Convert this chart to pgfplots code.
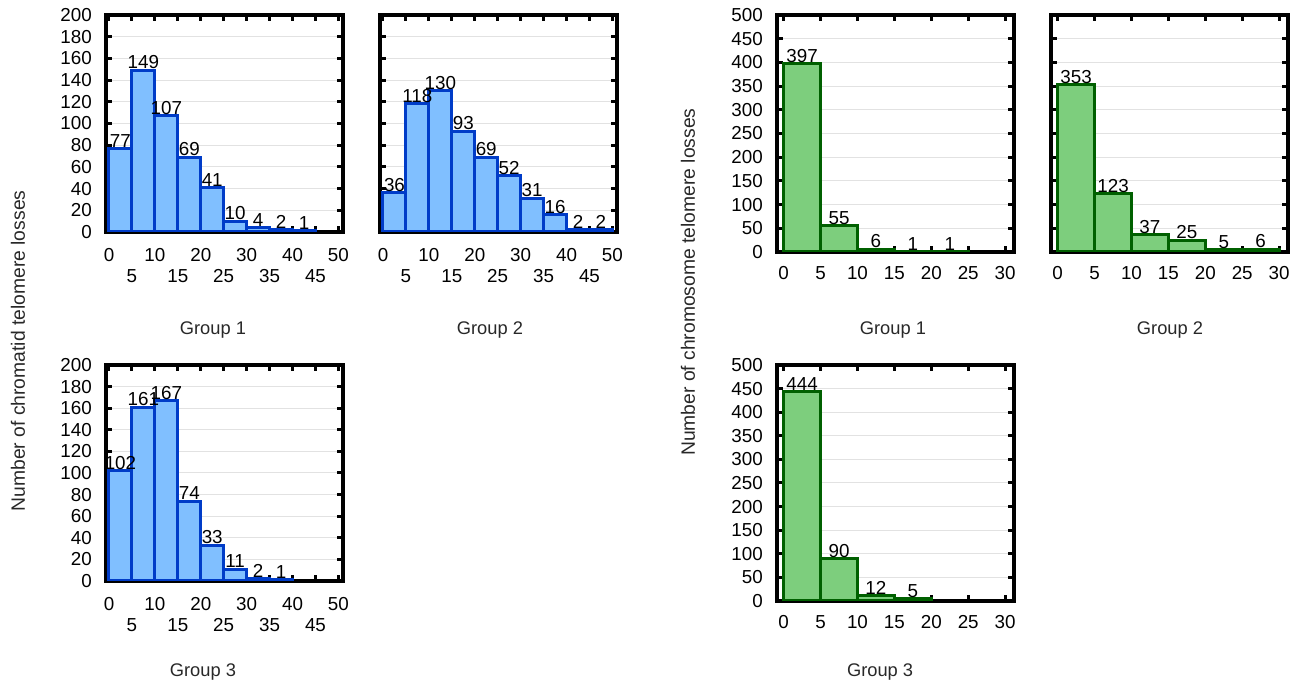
\documentclass[border=0pt]{standalone}
\usepackage{fontspec}
\setmainfont{Liberation Sans}
\usepackage{pgfplots}
\pgfplotsset{compat=1.18}
\definecolor{bfill}{RGB}{128,191,255}
\definecolor{bdraw}{RGB}{0,60,200}
\definecolor{gfill}{RGB}{125,206,125}
\definecolor{gdraw}{RGB}{0,96,0}
\definecolor{gridc}{RGB}{226,226,226}
\definecolor{labc}{RGB}{40,40,40}
\newcommand{\fs}{\fontsize{18.8}{20}\selectfont}
\pgfplotsset{
  panel/.style={
    scale only axis, width=237pt,
    axis line style={line width=3.2pt, black},
    every tick/.style={line width=3pt, black},
    major tick length=6pt,
    tick align=inside,
    ymajorgrids, major grid style={gridc, line width=1pt},
    /pgf/number format/assume math mode=true,
    tick label style={font=\fs, inner sep=0pt, text=black},
    yticklabel style={xshift=-14pt},
    ymin=0,
    xlabel style={font=\fontsize{18.3}{20}\selectfont, text=labc, anchor=center},
    ylabel style={font=\fontsize{19.3}{20}\selectfont, text=labc, anchor=center},
    nodes near coords style={font=\fs, inner sep=1pt, anchor=south, text=black},
  },
  bluepanel/.style={panel, height=217pt, xmin=-0.65, xmax=51, ymax=200,
    ytick={0,20,...,200},
    xtick={0,10,...,50},
    xticklabel style={yshift=-16pt},
    extra x ticks={5,15,...,45},
    extra x tick style={tick label style={yshift=-21pt}},
  },
  greenpanel/.style={panel, xmin=-0.9, xmax=31.2, ymax=500,
    ytick={0,50,...,500},
    xtick={0,5,...,30},
    xticklabel style={yshift=-14.5pt},
  },
  bbar/.style={ybar interval, fill=bfill, draw=bdraw, line width=3pt},
  gbar/.style={ybar interval, fill=gfill, draw=gdraw, line width=3pt},
  lab/.style={draw=none, mark=none, nodes near coords},
}
\begin{document}
\begin{tikzpicture}
\path[use as bounding box] (0pt,0pt) rectangle (1300pt,684pt);

% ---- Blue panel, Group 1
\begin{axis}[bluepanel, at={(106pt,452pt)}, anchor=south west,
  xlabel={Group 1}, xlabel style={at={(axis description cs:0.451,-0.452)}},
  ylabel={Number of chromatid telomere losses},
  ylabel style={at={(axis description cs:-0.371,-0.548)}}]
\addplot[bbar] coordinates {(0,77) (5,149) (10,107) (15,69) (20,41) (25,10) (30,4) (35,2) (40,1) (45,1)};
\addplot[lab] coordinates {(2.5,77) (7.5,149) (12.5,107) (17.5,69) (22.5,41) (27.5,10) (32.5,4) (37.5,2) (42.5,1)};
\end{axis}

% ---- Blue panel, Group 2
\begin{axis}[bluepanel, at={(380pt,452pt)}, anchor=south west,
  yticklabels={},
  xlabel={Group 2}, xlabel style={at={(axis description cs:0.464,-0.452)}}]
\addplot[bbar] coordinates {(0,36) (5,118) (10,130) (15,93) (20,69) (25,52) (30,31) (35,16) (40,2) (45,2) (50,2)};
\addplot[lab] coordinates {(2.5,36) (7.5,118) (12.5,130) (17.5,93) (22.5,69) (27.5,52) (32.5,31) (37.5,16) (42.5,2) (47.5,2)};
\end{axis}

% ---- Blue panel, Group 3
\begin{axis}[bluepanel, height=216pt, at={(106pt,103pt)}, anchor=south west,
  xlabel={Group 3}, xlabel style={at={(axis description cs:0.409,-0.421)}}]
\addplot[bbar] coordinates {(0,102) (5,161) (10,167) (15,74) (20,33) (25,11) (30,2) (35,1) (40,1)};
\addplot[lab] coordinates {(2.5,102) (7.5,161) (12.5,167) (17.5,74) (22.5,33) (27.5,11) (32.5,2) (37.5,1)};
\end{axis}

% ---- Green panel, Group 1
\begin{axis}[greenpanel, height=237pt, at={(777pt,432pt)}, anchor=south west,
  xlabel={Group 1}, xlabel style={at={(axis description cs:0.489,-0.329)}},
  ylabel={Number of chromosome telomere losses},
  ylabel style={at={(axis description cs:-0.376,-0.127)}}]
\addplot[gbar] coordinates {(0,397) (5,55) (10,6) (15,1) (20,1) (25,1)};
\addplot[lab] coordinates {(2.5,397) (7.5,55) (12.5,6) (17.5,1) (22.5,1)};
\end{axis}

% ---- Green panel, Group 2
\begin{axis}[greenpanel, height=237pt, at={(1051pt,432pt)}, anchor=south west,
  yticklabels={},
  xlabel={Group 2}, xlabel style={at={(axis description cs:0.502,-0.329)}}]
\addplot[gbar] coordinates {(0,353) (5,123) (10,37) (15,25) (20,5) (25,6) (30,6)};
\addplot[lab] coordinates {(2.5,353) (7.5,123) (12.5,37) (17.5,25) (22.5,5) (27.5,6)};
\end{axis}

% ---- Green panel, Group 3
\begin{axis}[greenpanel, height=236pt, at={(777pt,83pt)}, anchor=south west,
  xlabel={Group 3}, xlabel style={at={(axis description cs:0.435,-0.301)}}]
\addplot[gbar] coordinates {(0,444) (5,90) (10,12) (15,5) (20,5)};
\addplot[lab] coordinates {(2.5,444) (7.5,90) (12.5,12) (17.5,5)};
\end{axis}
\end{tikzpicture}
\end{document}
